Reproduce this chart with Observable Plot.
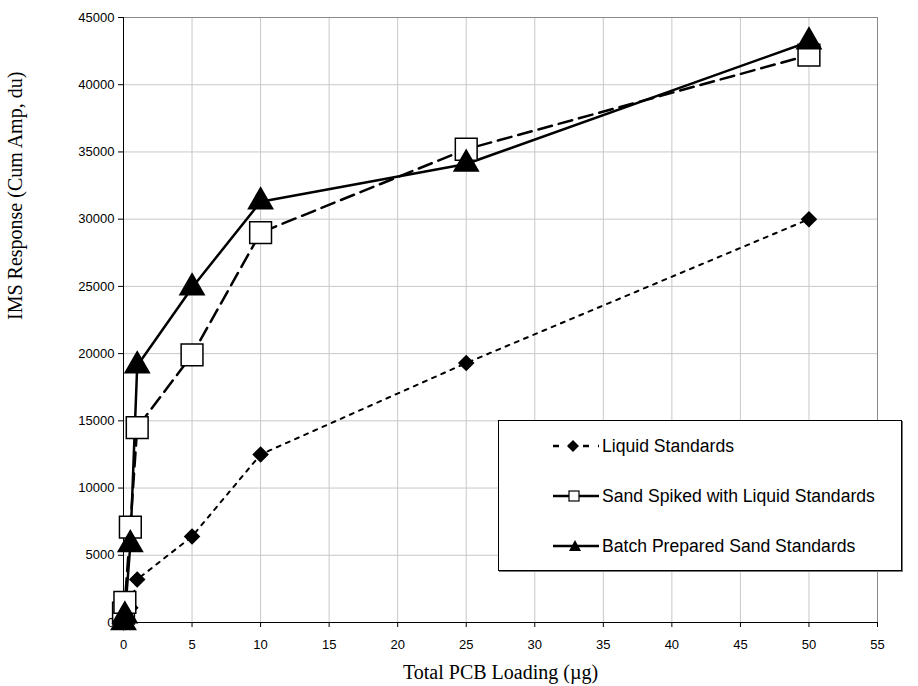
<!DOCTYPE html>
<html>
<head>
<meta charset="utf-8">
<script src="https://cdn.jsdelivr.net/npm/d3@7"></script>
<script src="https://cdn.jsdelivr.net/npm/@observablehq/plot@0.6"></script>
<style>
  html, body { margin: 0; padding: 0; background: white; }
  #wrap { position: relative; width: 918px; height: 686px; overflow: hidden; }
  #legend { position: absolute; left: 498px; top: 420px; width: 404px; height: 151px;
    border: 1px solid #000; background: #fff; box-sizing: border-box;
    box-shadow: 1px 1px 0 #777;
    font-family: "Liberation Sans", Arial, sans-serif; font-size: 17.6px; color: #000; }
  .entry { position: absolute; left: 54px; height: 20px; display: flex; align-items: center; }
  .entry svg { display: block; }
  .entry span { margin-left: 3px; white-space: nowrap; }
</style>
</head>
<body>
<div id="wrap"></div>
<script>
// ---- data ----
const loading = [0, 0.1, 0.5, 1, 5, 10, 25, 50];
const liquidStd = [0, 500, 1100, 3200, 6400, 12500, 19300, 30000];
const sandSpiked = [700, 1500, 7100, 14500, 19900, 29000, 35200, 42200];
const batchSand = [0, 500, 5800, 19100, 24900, 31300, 34100, 43200];
const seriesNames = ["Liquid Standards", "Sand Spiked with Liquid Standards", "Batch Prepared Sand Standards"];
const xTicks = [0, 5, 10, 15, 20, 25, 30, 35, 40, 45, 50, 55];
const yTicks = [0, 5000, 10000, 15000, 20000, 25000, 30000, 35000, 40000, 45000];
const xTitle = "Total PCB Loading (µg)";
const yTitle = "IMS Response (Cum Amp, du)";

const mk = (vals) => loading.map((x, i) => ({x, y: vals[i]}));
const liquid = mk(liquidStd), sand = mk(sandSpiked), batch = mk(batchSand);

const chart = Plot.plot({
  width: 918, height: 686,
  marginLeft: 123, marginRight: 41, marginTop: 17, marginBottom: 64,
  x: {domain: [0, 55]},
  y: {domain: [0, 45000]},
  style: {fontFamily: "'Liberation Sans', Arial, sans-serif", fontSize: "13px", background: "white", color: "black", overflow: "visible"},
  marks: [
    Plot.gridX(xTicks, {stroke: "#c8c8c8", strokeOpacity: 1}),
    Plot.gridY(yTicks, {stroke: "#c8c8c8", strokeOpacity: 1}),
    Plot.frame({stroke: "#888"}),
    Plot.ruleX([0], {stroke: "black"}),
    Plot.ruleY([0], {stroke: "black"}),
    Plot.axisX(xTicks, {tickSize: 5, tickPadding: 12, label: null, tickFormat: d => String(d)}),
    Plot.axisY(yTicks, {tickSize: 5, tickPadding: 4, label: null, tickFormat: d => String(d)}),
    Plot.line(liquid, {x: "x", y: "y", stroke: "black", strokeWidth: 2, strokeDasharray: "4,6"}),
    Plot.line(sand, {x: "x", y: "y", stroke: "black", strokeWidth: 2.5, strokeDasharray: "14,7"}),
    Plot.line(batch, {x: "x", y: "y", stroke: "black", strokeWidth: 2.5}),
    Plot.dot(liquid, {x: "x", y: "y", symbol: "diamond2", r: 6.5, fill: "black", stroke: "black"}),
    Plot.dot(sand, {x: "x", y: "y", symbol: "square", r: 12.3, fill: "white", stroke: "black", strokeWidth: 1.5}),
    Plot.dot(batch, {x: "x", y: "y", symbol: "triangle", r: 9, fill: "black", stroke: "black"}),
    Plot.text([yTitle], {text: d => d, frameAnchor: "left", dx: -108, rotate: -90,
      fontFamily: "'Liberation Serif', 'Times New Roman', serif", fontSize: 20, fill: "black"}),
    Plot.text([xTitle], {text: d => d, frameAnchor: "bottom", dy: 56,
      fontFamily: "'Liberation Serif', 'Times New Roman', serif", fontSize: 20, fill: "black"})
  ]
});
const wrap = document.getElementById("wrap");
wrap.appendChild(chart);

// legend
const legend = document.createElement("div");
legend.id = "legend";
const swatches = [
  `<svg width="46" height="20"><line x1="0" y1="10" x2="46" y2="10" stroke="black" stroke-width="2.5" stroke-dasharray="6,9"/><polygon points="20,4 26,10 20,16 14,10" fill="black"/></svg>`,
  `<svg width="46" height="20"><line x1="0" y1="10" x2="46" y2="10" stroke="black" stroke-width="2.5"/><rect x="16" y="5" width="10" height="10" fill="white" stroke="black" stroke-width="1.2"/></svg>`,
  `<svg width="46" height="20"><line x1="0" y1="10" x2="46" y2="10" stroke="black" stroke-width="2.5"/><polygon points="22,4 28,15 16,15" fill="black"/></svg>`
];
seriesNames.forEach((name, i) => {
  const e = document.createElement("div");
  e.className = "entry";
  e.style.top = (15 + i * 50) + "px";
  e.innerHTML = swatches[i] + `<span>${name}</span>`;
  legend.appendChild(e);
});
wrap.appendChild(legend);
</script>
</body>
</html>
